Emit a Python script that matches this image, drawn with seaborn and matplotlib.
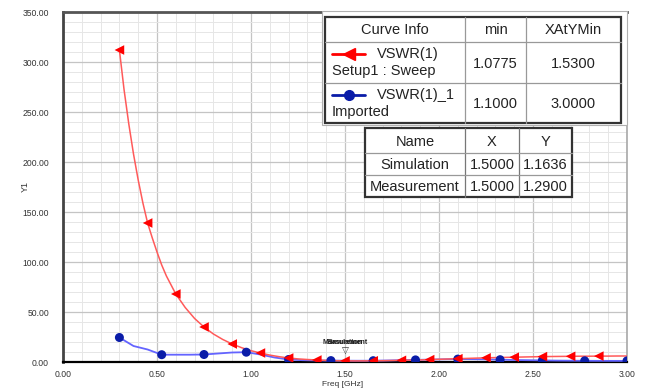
import numpy as np
import pandas as pd
import matplotlib
matplotlib.use("Agg")
import matplotlib.pyplot as plt
from matplotlib.patches import Rectangle
from matplotlib.lines import Line2D
import seaborn as sns

# ---------------- data ----------------
red_freq = [0.300, 0.325, 0.350, 0.375, 0.400, 0.425, 0.450, 0.475, 0.500,
            0.525, 0.550, 0.575, 0.600, 0.650, 0.700, 0.750,
            0.80, 0.85, 0.90, 0.95, 1.00, 1.05, 1.10, 1.15, 1.20, 1.25,
            1.30, 1.35, 1.40, 1.45, 1.50, 1.55, 1.60, 1.65, 1.70, 1.75,
            1.80, 1.85, 1.90, 1.95, 2.00, 2.05, 2.10, 2.15, 2.20, 2.25,
            2.30, 2.35, 2.40, 2.45, 2.50, 2.55, 2.60, 2.65, 2.70, 2.75,
            2.80, 2.85, 2.90, 2.95, 3.00]
red_vswr = [312, 272, 238, 208, 182, 159, 139, 124, 110,
            97, 86, 77, 68, 54.5, 43.5, 35,
            28, 22.5, 18, 14.3, 11.3, 9, 6.9, 5.3, 4.0, 3.1,
            2.5, 2.0, 1.6, 1.3, 1.16, 1.08, 1.12, 1.2, 1.3, 1.5,
            1.7, 1.9, 2.1, 2.4, 2.7, 3.0, 3.3, 3.6, 3.9, 4.2,
            4.4, 4.6, 4.8, 5.0, 5.2, 5.4, 5.5, 5.6, 5.7, 5.8,
            5.8, 5.9, 5.9, 6.0, 6.0]
red_marker_freq = [0.30, 0.45, 0.60, 0.75, 0.90, 1.05, 1.20, 1.35, 1.50,
                   1.65, 1.80, 1.95, 2.10, 2.25, 2.40, 2.55, 2.70, 2.85]

blue_freq = [0.300, 0.375, 0.450, 0.525, 0.600, 0.675, 0.750, 0.825, 0.900,
             0.975, 1.050, 1.125, 1.200, 1.275, 1.350, 1.425, 1.500, 1.575,
             1.650, 1.725, 1.800, 1.875, 1.950, 2.025, 2.100, 2.175, 2.250,
             2.325, 2.400, 2.475, 2.550, 2.625, 2.700, 2.775, 2.850, 2.925,
             3.000]
blue_vswr = [24.5, 16, 12.5, 7.3, 7.3, 7.3, 7.5, 8.5, 9.5,
             9.8, 7.5, 4.5, 2.5, 1.8, 1.5, 1.4, 1.29, 1.25,
             1.3, 1.5, 1.8, 2.1, 2.4, 2.7, 2.9, 2.8, 2.6,
             2.3, 2.0, 1.8, 1.6, 1.4, 1.3, 1.2, 1.15, 1.12,
             1.10]
blue_marker_freq = [0.300, 0.525, 0.750, 0.975, 1.200, 1.425, 1.650, 1.875,
                    2.100, 2.325, 2.550, 2.775, 3.000]

x_ticks = [0.0, 0.5, 1.0, 1.5, 2.0, 2.5, 3.0]
y_ticks = [0, 50, 100, 150, 200, 250, 300, 350]

curve_header = ["Curve Info", "min", "XAtYMin"]
curve_names = [("VSWR(1)", "Setup1 : Sweep"), ("VSWR(1)_1", "Imported")]
curve_min = ["1.0775", "1.1000"]
curve_xatymin = ["1.5300", "3.0000"]

marker_header = ["Name", "X", "Y"]
marker_rows = [["Simulation", "1.5000", "1.1636"],
               ["Measurement", "1.5000", "1.2900"]]

# ---------------- figure ----------------
sns.set_style("white")
plt.rcParams["font.family"] = ["Liberation Sans", "DejaVu Sans"]
W, H = 654, 388
fig = plt.figure(figsize=(W / 100, H / 100), dpi=100)

L, R, T, B = 63, 627, 12, 362
ax = fig.add_axes([L / W, 1 - B / H, (R - L) / W, (B - T) / H])

red_line, red_mark = "#ff5a5a", "#ff0000"
blue_line, blue_mark = "#6464ff", "#0a1ca8"

dfr = pd.DataFrame({"f": red_freq, "v": red_vswr})
dfb = pd.DataFrame({"f": blue_freq, "v": blue_vswr})
dfr_m = dfr[np.isclose(dfr["f"].values[:, None],
                       np.array(red_marker_freq)[None, :]).any(axis=1)]
dfb_m = dfb[np.isclose(dfb["f"].values[:, None],
                       np.array(blue_marker_freq)[None, :]).any(axis=1)]

sns.lineplot(data=dfb, x="f", y="v", ax=ax, color=blue_line, linewidth=1.3,
             zorder=3)
sns.lineplot(data=dfr, x="f", y="v", ax=ax, color=red_line, linewidth=1.1,
             zorder=4)
sns.scatterplot(data=dfb_m, x="f", y="v", ax=ax, marker="o",
                color=blue_mark, s=42, edgecolor="none", zorder=5)
sns.scatterplot(data=dfr_m, x="f", y="v", ax=ax, marker="<",
                color=red_mark, s=48, edgecolor="none", zorder=6)

ax.set_xlim(0, 3)
ax.set_ylim(0, 350)
ax.set_xticks(x_ticks)
ax.set_yticks(y_ticks)
ax.set_xticks(np.arange(0, 3.001, 0.1), minor=True)
ax.set_yticks(np.arange(0, 350.1, 10), minor=True)

tick_font = ["Liberation Sans", "DejaVu Sans"]
ax.set_xticklabels([f"{t:.2f}" for t in x_ticks], fontsize=6.2,
                   family=tick_font, color="#333333")
ax.set_yticklabels([f"{t:.2f}" for t in y_ticks], fontsize=6.2,
                   family=tick_font, color="#333333")

ax.grid(True, which="major", color="#c4c4c4", linewidth=0.9)
ax.grid(True, which="minor", color="#e6e6e6", linewidth=0.7)
ax.set_axisbelow(True)

ax.tick_params(axis="y", which="major", length=7, width=1.6, color="#555555",
               pad=3, direction="out")
ax.tick_params(axis="y", which="minor", length=4, width=1.4, color="#555555",
               direction="out")
ax.tick_params(axis="x", which="major", length=3, width=1.0, color="#555555",
               pad=3, direction="out")
ax.tick_params(axis="x", which="minor", length=3, width=1.0, color="#555555",
               direction="out")

for side, col, lw in [("left", "#444444", 2.0), ("top", "#555555", 2.0),
                      ("bottom", "#000000", 1.6), ("right", "#a8a8a8", 1.2)]:
    ax.spines[side].set_visible(True)
    ax.spines[side].set_color(col)
    ax.spines[side].set_linewidth(lw)

ax.set_xlabel("")
ax.set_ylabel("")

# marker flag near 1.5 GHz (both marker names are drawn at the same spot,
# overlapping, as in the reference)
sim_x, sim_y = float(marker_rows[0][1]), float(marker_rows[0][2])
ax.annotate("\u25BD", xy=(sim_x, sim_y), xytext=(0, 3.5),
            textcoords="offset points", ha="center", va="bottom",
            fontsize=6.5, family=["DejaVu Sans"], color="#333333", zorder=8)
for name in [marker_rows[0][0], marker_rows[1][0]]:
    ax.annotate(name, xy=(sim_x, sim_y), xytext=(0, 10.5),
                textcoords="offset points", ha="center", va="bottom",
                fontsize=5, family=tick_font, color="#222222",
                fontweight="bold", zorder=8)

# axis titles (via an overlay in pixel coordinates)
ov = fig.add_axes([0, 0, 1, 1], facecolor="none")
ov.set_xlim(0, W)
ov.set_ylim(H, 0)
ov.axis("off")
ov.text(25, 186, "Y1", rotation=90, ha="center", va="center", fontsize=6.5,
        family=tick_font, color="#333333")
ov.text(343, 388, "Freq [GHz]", ha="center", va="bottom", fontsize=6.0,
        family=tick_font, color="#333333")

# ---------------- Curve Info table ----------------
ov.add_patch(Rectangle((322, 11), 305, 114, facecolor="white",
                       edgecolor="#b0b0b0", linewidth=0.8, zorder=9))
ct_x = [325, 465, 526, 621]
ct_y = [17, 42, 83, 123]
ov.add_patch(Rectangle((ct_x[0], ct_y[0]), ct_x[-1] - ct_x[0],
                       ct_y[-1] - ct_y[0], facecolor="white",
                       edgecolor="#333333", linewidth=1.6, zorder=10))
for xv in ct_x[1:-1]:
    ov.add_line(Line2D([xv, xv], [ct_y[0], ct_y[-1]], color="#999999",
                       linewidth=0.9, zorder=11))
for yv in ct_y[1:-1]:
    ov.add_line(Line2D([ct_x[0], ct_x[-1]], [yv, yv], color="#999999",
                       linewidth=0.9, zorder=11))

tfs = 10.5
tcol = "#222222"
centers = [(ct_x[i] + ct_x[i + 1]) / 2 for i in range(3)]
for c, txt in zip(centers, curve_header):
    ov.text(c, (ct_y[0] + ct_y[1]) / 2 + 1, txt, ha="center", va="center",
            fontsize=tfs, color=tcol, zorder=12)
samples = [(red_line, red_mark, "<", 8), (blue_line, blue_mark, "o", 7)]
for i in range(2):
    y0, y1 = ct_y[i + 1], ct_y[i + 2]
    ym = (y0 + y1) / 2
    lc, mc, mk, ms = samples[i]
    ov.add_line(Line2D([332, 365], [y0 + 12, y0 + 12], color=mc,
                       linewidth=2.0, zorder=12))
    ov.plot([349], [y0 + 12], marker=mk, color=mc, markersize=ms,
            linestyle="none", zorder=13)
    ov.text(377, y0 + 12, curve_names[i][0], ha="left", va="center",
            fontsize=tfs, color=tcol, zorder=12)
    ov.text(332, y0 + 29, curve_names[i][1], ha="left", va="center",
            fontsize=tfs, color=tcol, zorder=12)
    ov.text(centers[1], ym + 1, curve_min[i], ha="center", va="center",
            fontsize=tfs, color=tcol, zorder=12)
    ov.text(centers[2], ym + 1, curve_xatymin[i], ha="center", va="center",
            fontsize=tfs, color=tcol, zorder=12)

# ---------------- Marker table ----------------
mt_x = [365, 465, 519, 572]
mt_y = [128, 153, 175, 197]
ov.add_patch(Rectangle((mt_x[0], mt_y[0]), mt_x[-1] - mt_x[0],
                       mt_y[-1] - mt_y[0], facecolor="white",
                       edgecolor="#333333", linewidth=1.6, zorder=10))
for xv in mt_x[1:-1]:
    ov.add_line(Line2D([xv, xv], [mt_y[0], mt_y[-1]], color="#777777",
                       linewidth=0.9, zorder=11))
for yv in mt_y[1:-1]:
    ov.add_line(Line2D([mt_x[0], mt_x[-1]], [yv, yv], color="#999999",
                       linewidth=0.9, zorder=11))
mcent = [(mt_x[i] + mt_x[i + 1]) / 2 for i in range(3)]
rows = [marker_header] + marker_rows
for r, row in enumerate(rows):
    ym = (mt_y[r] + mt_y[r + 1]) / 2 + 1
    for c, txt in enumerate(row):
        ov.text(mcent[c], ym, txt, ha="center", va="center", fontsize=tfs,
                color=tcol, zorder=12)

fig.savefig("out.png", dpi=100, facecolor="white")
